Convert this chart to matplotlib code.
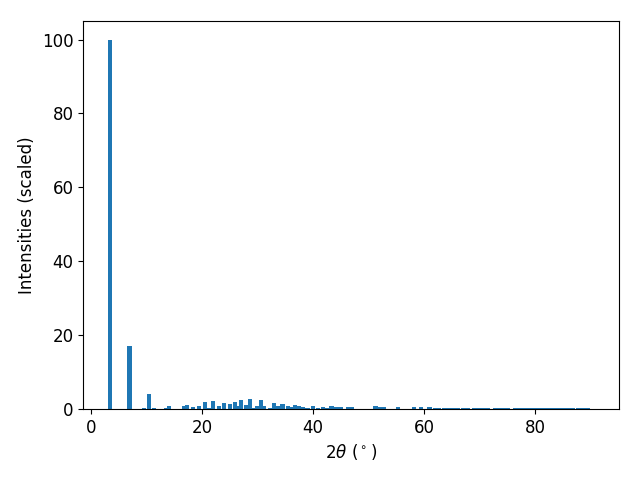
import numpy as np
import matplotlib
matplotlib.use("Agg")
import matplotlib.pyplot as plt

plt.rcParams['font.size'] = 12

# peak positions (2theta, degrees) and scaled intensities
two_theta = [
    3.33, 6.85, 9.55, 10.45, 11.26, 13.5, 14.05, 16.76, 17.3, 18.29,
    19.46, 20.45, 21.26, 21.98, 22.97, 23.87, 24.95, 25.86, 26.49, 27.03,
    27.93, 28.65, 29.19, 29.82, 30.63, 31.17, 32.16, 32.97, 33.69, 34.5,
    35.41, 36.04, 36.67, 37.39, 38.11, 39.0, 39.91, 40.81, 41.8, 42.52,
    43.33, 44.2, 45.05, 46.3, 47.0, 47.84, 48.65, 49.46, 50.18, 51.26,
    51.98, 52.79, 53.69, 54.5, 55.32, 56.2, 57.1, 58.2, 59.46, 60.2,
    60.99,
    61.9, 62.7, 63.6, 64.4, 65.3, 66.1, 67.0, 67.8, 69.1, 69.9,
    70.7, 71.5, 72.8, 73.6, 74.4, 75.1, 76.4, 77.2, 78.0, 78.8,
    79.6, 80.4, 81.2, 82.0, 82.8, 83.6, 84.4, 85.2, 86.0, 86.7,
    87.8, 88.6, 89.4, 90.3,
]
intensity = [
    100, 17, 0.3, 4.1, 0.3, 0.3, 0.9, 0.8, 1.1, 0.6,
    0.8, 1.9, 0.3, 2.2, 0.8, 1.6, 1.4, 1.9, 0.8, 2.4,
    1.1, 2.7, 0.3, 0.8, 2.4, 0.8, 0.3, 1.6, 0.7, 1.3,
    0.8, 0.5, 1.1, 0.7, 0.5, 0.3, 0.8, 0.3, 0.5, 0.3,
    0.8, 0.5, 0.5, 0.5, 0.5, 0.1, 0.1, 0.1, 0.1, 0.8,
    0.5, 0.5, 0.1, 0.1, 0.5, 0.1, 0.1, 0.5, 0.5, 0.1,
    0.5,
    0.2, 0.2, 0.2, 0.2, 0.2, 0.2, 0.2, 0.2, 0.2, 0.2,
    0.2, 0.2, 0.2, 0.2, 0.2, 0.2, 0.2, 0.2, 0.2, 0.2,
    0.2, 0.2, 0.2, 0.2, 0.2, 0.2, 0.2, 0.2, 0.2, 0.2,
    0.2, 0.2, 0.2, 0.0,
]

fig = plt.figure(figsize=(6.4, 4.8), dpi=100)
plt.bar(two_theta, intensity)
plt.xlabel(r'$2\theta$ ($^\circ$)')
plt.ylabel('Intensities (scaled)')
plt.subplots_adjust(left=0.13, right=0.967, top=0.956, bottom=0.148)
plt.savefig("out.png")
